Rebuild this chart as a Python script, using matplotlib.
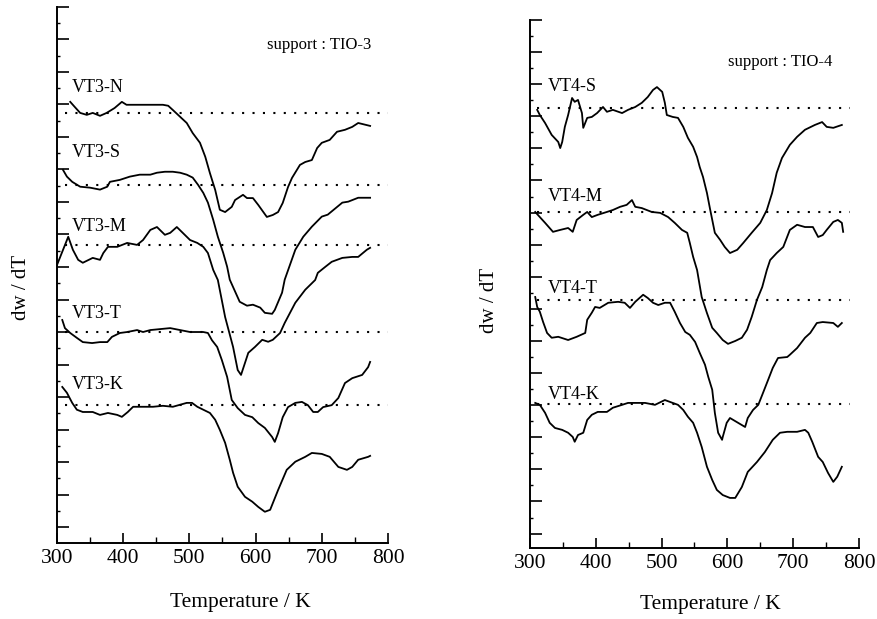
import matplotlib.pyplot as plt

plt.rcParams['font.family'] = ['Liberation Serif', 'DejaVu Serif']

# DTG traces, dw/dT in arbitrary units; 0 is the dotted reference level of each trace
vt3n_t = [320, 327, 335, 345, 354, 365, 375, 387, 398, 405, 420, 440, 460, 468, 475,
          486, 496, 505, 516, 524, 531, 539, 546, 554, 564, 569, 581, 587, 596, 604,
          617, 626, 634, 641, 649, 655, 667, 675, 685, 693, 700, 712, 723, 735, 746,
          755, 773]
vt3n_dw = [0.34, 0.18, 0.0, -0.06, 0.0, -0.09, 0.0, 0.15, 0.34, 0.25, 0.25, 0.25, 0.25,
           0.22, 0.09, -0.12, -0.31, -0.62, -0.92, -1.35, -1.85, -2.37, -2.98, -3.05,
           -2.89, -2.68, -2.52, -2.62, -2.62, -2.83, -3.20, -3.14, -3.05, -2.77, -2.28,
           -2.0, -1.6, -1.51, -1.45, -1.08, -0.92, -0.83, -0.58, -0.52, -0.43, -0.31,
           -0.40]

vt3s_t = [309, 315, 323, 335, 350, 365, 376, 380, 395, 410, 425, 441, 451, 463, 475,
          486, 496, 505, 513, 521, 528, 536, 543, 551, 557, 561, 576, 587, 596, 607,
          614, 625, 629, 640, 644, 660, 672, 685, 700, 709, 731, 740, 755, 773]
vt3s_dw = [0.46, 0.25, 0.09, -0.06, -0.09, -0.15, -0.06, 0.09, 0.15, 0.25, 0.31, 0.31,
           0.37, 0.40, 0.40, 0.37, 0.31, 0.22, 0.0, -0.25, -0.55, -1.08, -1.6, -2.09,
           -2.52, -2.92, -3.6, -3.72, -3.69, -3.78, -3.94, -3.97, -3.85, -3.32, -2.92,
           -2.0, -1.6, -1.29, -0.98, -0.92, -0.55, -0.52, -0.40, -0.40]

vt3m_t = [300, 317, 324, 332, 339, 354, 365, 370, 377, 391, 406, 421, 430, 441, 451,
          463, 471, 481, 490, 501, 512, 521, 528, 536, 543, 554, 566, 573, 578, 584,
          589, 599, 610, 619, 626, 637, 644, 660, 675, 690, 694, 705, 715, 731, 746,
          755, 768, 773]
vt3m_dw = [-0.62, 0.25, -0.15, -0.46, -0.55, -0.40, -0.46, -0.25, -0.06, -0.06, 0.06,
           0.0, 0.15, 0.46, 0.55, 0.31, 0.37, 0.55, 0.37, 0.15, 0.06, -0.06, -0.25,
           -0.77, -1.08, -2.22, -3.14, -3.85, -4.0, -3.63, -3.32, -3.14, -2.92, -2.98,
           -2.92, -2.71, -2.40, -1.78, -1.38, -1.08, -0.86, -0.68, -0.52, -0.40, -0.37,
           -0.37, -0.15, -0.09]

vt3t_t = [308, 312, 320, 330, 339, 353, 365, 376, 383, 395, 406, 421, 430, 441, 456,
          471, 486, 501, 512, 521, 528, 534, 542, 549, 557, 564, 573, 584, 595, 604,
          614, 625, 629, 634, 641, 649, 660, 670, 679, 687, 694, 702, 715, 725, 735,
          746, 761, 770, 773]
vt3t_dw = [0.37, 0.12, -0.03, -0.18, -0.31, -0.34, -0.31, -0.31, -0.15, -0.03, 0.0,
           0.06, 0.0, 0.06, 0.09, 0.12, 0.06, 0.0, 0.0, 0.0, -0.03, -0.25, -0.46, -0.86,
           -1.38, -2.09, -2.34, -2.55, -2.62, -2.80, -2.95, -3.23, -3.38, -3.11, -2.62,
           -2.31, -2.18, -2.15, -2.25, -2.46, -2.46, -2.31, -2.25, -2.03, -1.57, -1.42,
           -1.32, -1.08, -0.92]

vt3k_t = [308, 315, 323, 330, 339, 354, 365, 377, 391, 398, 407, 415, 430, 445, 460,
          475, 496, 504, 512, 521, 531, 539, 546, 554, 561, 566, 573, 584, 595, 604,
          614, 622, 634, 647, 660, 675, 685, 700, 712, 725, 738, 746, 755, 770, 773]
vt3k_dw = [0.55, 0.37, 0.06, -0.15, -0.22, -0.22, -0.31, -0.25, -0.31, -0.37, -0.22,
           -0.06, -0.06, -0.06, -0.03, -0.06, 0.06, 0.06, -0.06, -0.15, -0.25, -0.46,
           -0.77, -1.17, -1.69, -2.09, -2.52, -2.83, -2.98, -3.14, -3.29, -3.23, -2.62,
           -2.0, -1.75, -1.60, -1.48, -1.51, -1.60, -1.91, -2.0, -1.91, -1.69, -1.60,
           -1.57]

vt4s_t = [311, 315, 323, 333, 343, 346, 349, 353, 358, 364, 368, 373, 379, 381, 387,
          394, 402, 411, 417, 426, 440, 449, 460, 470, 479, 487, 493, 501, 505, 508,
          517, 525, 533, 540, 548, 554, 558, 563, 569, 574, 581, 589, 596, 604, 615,
          624, 637, 650, 660, 668, 675, 683, 695, 706, 718, 733, 744, 751, 761, 774]
vt4s_dw = [-0.06, -0.22, -0.47, -0.84, -1.06, -1.25, -1.06, -0.59, -0.22, 0.31, 0.19,
           0.25, -0.16, -0.62, -0.31, -0.28, -0.16, 0.03, -0.12, -0.06, -0.16, -0.06,
           0.03, 0.16, 0.34, 0.56, 0.65, 0.50, 0.16, -0.22, -0.28, -0.31, -0.59, -0.93,
           -1.21, -1.53, -1.84, -2.15, -2.65, -3.18, -3.89, -4.11, -4.33, -4.52, -4.42,
           -4.21, -3.89, -3.58, -3.18, -2.65, -2.02, -1.56, -1.15, -0.90, -0.68, -0.53,
           -0.44, -0.59, -0.62, -0.53]

vt4m_t = [308, 315, 323, 335, 346, 358, 365, 371, 381, 387, 394, 403, 417, 426, 437,
          447, 455, 460, 470, 485, 498, 510, 520, 531, 539, 543, 548, 554, 561, 569,
          577, 584, 593, 601, 612, 622, 630, 637, 645, 653, 660, 665, 675, 685, 695,
          706, 718, 730, 738, 745, 751, 761, 768, 774, 776]
vt4m_dw = [0.0, -0.16, -0.34, -0.62, -0.56, -0.50, -0.62, -0.25, -0.09, 0.0, -0.16,
           -0.09, 0.0, 0.06, 0.16, 0.22, 0.37, 0.16, 0.12, 0.0, -0.03, -0.16, -0.34,
           -0.56, -0.65, -0.97, -1.40, -1.81, -2.65, -3.15, -3.61, -3.77, -3.99, -4.11,
           -4.02, -3.92, -3.67, -3.27, -2.74, -2.34, -1.81, -1.50, -1.28, -1.09, -0.56,
           -0.40, -0.47, -0.47, -0.78, -0.72, -0.56, -0.31, -0.25, -0.34, -0.62]

vt4t_t = [308, 311, 315, 320, 326, 333, 343, 358, 371, 384, 387, 394, 399, 406, 419,
          434, 444, 452, 460, 472, 479, 487, 495, 505, 513, 520, 528, 536, 543, 551,
          558, 566, 571, 577, 581, 586, 592, 593, 599, 604, 627, 631, 639, 647, 653,
          662, 669, 677, 691, 695, 706, 718, 726, 736, 745, 761, 768, 774]
vt4t_dw = [0.09, -0.22, -0.37, -0.69, -1.03, -1.18, -1.15, -1.25, -1.15, -1.03, -0.62,
           -0.40, -0.22, -0.25, -0.09, -0.06, -0.09, -0.25, -0.06, 0.16, 0.06, -0.09,
           -0.16, -0.09, -0.09, -0.37, -0.72, -1.0, -1.09, -1.31, -1.65, -2.02, -2.40,
           -2.80, -3.52, -4.14, -4.36, -4.27, -3.83, -3.68, -3.96, -3.68, -3.43, -3.27,
           -2.96, -2.49, -2.12, -1.81, -1.78, -1.71, -1.50, -1.18, -1.03, -0.72, -0.69,
           -0.72, -0.84, -0.72]

vt4k_t = [308, 315, 323, 330, 338, 349, 358, 365, 368, 373, 381, 387, 394, 403, 417,
          426, 440, 449, 464, 475, 490, 505, 517, 525, 533, 540, 548, 554, 561, 569,
          577, 584, 593, 604, 612, 622, 631, 645, 657, 669, 680, 691, 706, 718, 723,
          729, 738, 745, 753, 761, 767, 774]
vt4k_dw = [0.03, -0.03, -0.28, -0.59, -0.75, -0.81, -0.90, -1.03, -1.18, -0.97, -0.90,
           -0.50, -0.34, -0.25, -0.25, -0.12, -0.03, 0.03, 0.03, 0.03, -0.03, 0.12, 0.03,
           -0.03, -0.19, -0.40, -0.59, -0.90, -1.34, -1.96, -2.37, -2.68, -2.84, -2.93,
           -2.93, -2.59, -2.12, -1.81, -1.50, -1.12, -0.90, -0.87, -0.87, -0.81, -0.90,
           -1.18, -1.65, -1.81, -2.15, -2.43, -2.27, -1.96]

tio3_names = ['VT3-N', 'VT3-S', 'VT3-M', 'VT3-T', 'VT3-K']
tio4_names = ['VT4-S', 'VT4-M', 'VT4-T', 'VT4-K']

# vertical stacking of the traces and their name labels
tio3_base = [13.23, 11.02, 9.17, 6.49, 4.25]
tio3_label_dy = [0.77, 0.98, 0.58, 0.58, 0.62]
tio4_base = [13.71, 10.47, 7.73, 4.49]
tio4_label_dy = [0.68, 0.47, 0.37, 0.28]


def draw_panel(ax, curves, names, bases, label_dy, label_x, dot_x, top, support, support_xy):
    for (t, dw), name, b, dy in zip(curves, names, bases, label_dy):
        ax.plot(dot_x, [b, b], color='k', lw=1.5, ls=(0, (1, 4)))
        ax.plot(t, [b + v for v in dw], color='k', lw=1.3)
        ax.text(label_x, b + dy, name, fontsize=13, ha='left', va='center')
    ax.text(support_xy[0], support_xy[1], support, fontsize=12, ha='center', va='center')

    ax.set_xlim(300, 800)
    ax.set_ylim(0, top)
    ax.spines['top'].set_visible(False)
    ax.spines['right'].set_visible(False)
    ax.spines['left'].set_linewidth(1.4)
    ax.spines['bottom'].set_linewidth(1.4)
    ax.set_xticks(range(300, 801, 100))
    ax.set_xticks(range(350, 800, 100), minor=True)
    ax.set_yticks([top - k for k in range(17)])
    ax.set_yticks([top - k - 0.5 for k in range(16)], minor=True)
    ax.tick_params(axis='x', which='major', direction='in', length=7, width=1.2,
                   pad=4, labelsize=15.5)
    ax.tick_params(axis='x', which='minor', direction='in', length=4, width=1)
    ax.tick_params(axis='y', which='major', direction='in', length=8.5, width=1.2,
                   labelleft=False)
    ax.tick_params(axis='y', which='minor', direction='in', length=2, width=1)


fig = plt.figure(figsize=(8.78, 6.19), dpi=100)
ax1 = fig.add_axes([0.0649, 0.1228, 0.377, 0.866])
ax2 = fig.add_axes([0.6036, 0.1147, 0.3747, 0.853])

draw_panel(ax1,
           [(vt3n_t, vt3n_dw), (vt3s_t, vt3s_dw), (vt3m_t, vt3m_dw),
            (vt3t_t, vt3t_dw), (vt3k_t, vt3k_dw)],
           tio3_names, tio3_base, tio3_label_dy, 322, [312, 800], 16.49,
           'support : TIO-3', (696, 15.32))
draw_panel(ax2,
           [(vt4s_t, vt4s_dw), (vt4m_t, vt4m_dw), (vt4t_t, vt4t_dw), (vt4k_t, vt4k_dw)],
           tio4_names, tio4_base, tio4_label_dy, 327, [311, 786], 16.45,
           'support : TIO-4', (680, 15.14))

fig.text(22 / 878, 1 - 287 / 619, 'dw / dT', rotation=90, fontsize=15,
         ha='center', va='center')
fig.text(490 / 878, 1 - 300 / 619, 'dw / dT', rotation=90, fontsize=15,
         ha='center', va='center')
fig.text(240 / 878, 1 - 602 / 619, 'Temperature / K', fontsize=15.5,
         ha='center', va='center')
fig.text(710 / 878, 1 - 605 / 619, 'Temperature / K', fontsize=15.5,
         ha='center', va='center')

fig.savefig('out.png', dpi=100)
